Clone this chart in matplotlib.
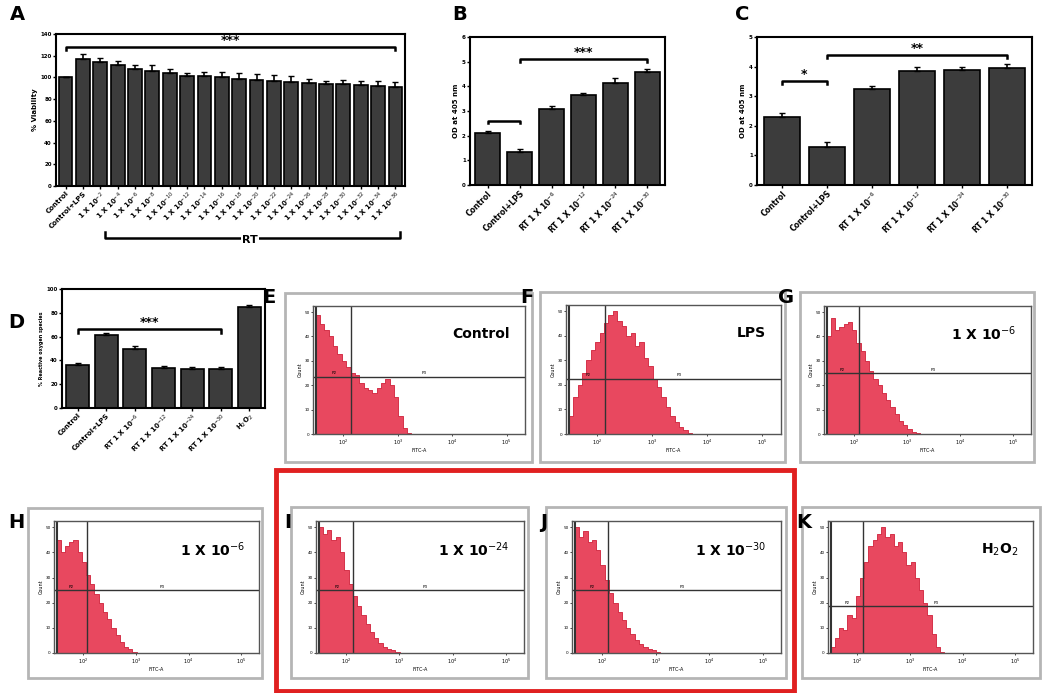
import numpy as np
import matplotlib
matplotlib.use("Agg")
import matplotlib.pyplot as plt
from matplotlib.patches import Rectangle

# ---------------- data ----------------
a_labels = ["Control", "Control+LPS"] + [f"1 X 10$^{{-{e}}}$" for e in range(2, 38, 2)]
a_values = [100, 117, 114, 111, 108, 106, 104, 101, 101, 100, 99, 98, 97, 96, 95, 94, 94, 93, 92, 91]
a_errors = [0, 5, 4, 4, 3, 5, 4, 3, 4, 5, 5, 5, 5, 5, 4, 3, 4, 4, 5, 5]

b_labels = ["Control", "Control+LPS", "RT 1 X 10$^{-6}$", "RT 1 X 10$^{-12}$", "RT 1 X 10$^{-24}$", "RT 1 X 10$^{-30}$"]
b_values = [2.1, 1.35, 3.1, 3.65, 4.15, 4.6]
b_errors = [0.1, 0.12, 0.1, 0.08, 0.2, 0.12]

c_labels = b_labels
c_values = [2.3, 1.3, 3.25, 3.85, 3.9, 3.95]
c_errors = [0.12, 0.15, 0.1, 0.15, 0.1, 0.15]

d_labels = ["Control", "Control+LPS", "RT 1 X 10$^{-6}$", "RT 1 X 10$^{-12}$", "RT 1 X 10$^{-24}$", "RT 1 X 10$^{-30}$", "H$_2$O$_2$"]
d_values = [36, 61, 50, 34, 33, 33, 85]
d_errors = [2, 2, 2, 1.5, 1.5, 1.5, 1.5]

hist_bins = np.arange(0, 2.4, 0.08)
hist_E = [0.98,0.9,0.85,0.8,0.72,0.66,0.6,0.55,0.5,0.48,0.42,0.38,0.36,0.34,0.38,0.42,0.45,0.4,0.3,0.15,0.05,0.01,0,0,0,0,0,0,0,0]
hist_F = [0.15,0.3,0.4,0.5,0.6,0.68,0.75,0.82,0.9,0.97,1.0,0.92,0.88,0.8,0.82,0.72,0.75,0.62,0.55,0.45,0.38,0.3,0.22,0.15,0.1,0.06,0.03,0.01,0,0]
hist_G = [0.8,0.95,0.85,0.88,0.9,0.92,0.85,0.75,0.68,0.6,0.52,0.45,0.4,0.34,0.28,0.22,0.16,0.11,0.07,0.04,0.02,0.01,0,0,0,0,0,0,0,0]
hist_H = [0.9,0.8,0.85,0.88,0.9,0.8,0.72,0.62,0.55,0.47,0.4,0.33,0.27,0.2,0.14,0.09,0.05,0.03,0.01,0,0,0,0,0,0,0,0,0,0,0]
hist_I = [1.0,0.95,0.98,0.9,0.92,0.8,0.66,0.55,0.45,0.37,0.3,0.23,0.17,0.12,0.08,0.05,0.03,0.02,0.01,0,0,0,0,0,0,0,0,0,0,0]
hist_J = [1.0,0.92,0.97,0.88,0.9,0.82,0.7,0.58,0.48,0.4,0.33,0.26,0.2,0.15,0.1,0.07,0.05,0.03,0.02,0.01,0,0,0,0,0,0,0,0,0,0]
hist_K = [0.05,0.12,0.2,0.18,0.3,0.28,0.45,0.6,0.72,0.85,0.9,0.95,1.0,0.92,0.95,0.85,0.88,0.8,0.7,0.72,0.6,0.5,0.4,0.3,0.15,0.05,0.01,0,0,0]
hist_titles = ["Control", "LPS", "1 X 10$^{-6}$", "1 X 10$^{-6}$", "1 X 10$^{-24}$", "1 X 10$^{-30}$", "H$_2$O$_2$"]
gate_x = [0.7, 0.7, 0.65, 0.62, 0.7, 0.67, 0.66]
gate_y = [0.47, 0.45, 0.5, 0.5, 0.5, 0.5, 0.37]

# ---------------- figure ----------------
W, H = 1050, 693
fig = plt.figure(figsize=(W / 100, H / 100), dpi=100)
BAR = "#3c3c3c"


def ax_px(x0, y0, x1, y1):
    return fig.add_axes([x0 / W, 1 - y1 / H, (x1 - x0) / W, (y1 - y0) / H])


def fig_rect(x0, y0, x1, y1, color, lw):
    fig.patches.append(Rectangle((x0 / W, 1 - y1 / H), (x1 - x0) / W, (y1 - y0) / H,
                                 transform=fig.transFigure, fill=False, edgecolor=color, lw=lw))


def letter(x, y, s):
    fig.text(x / W, 1 - y / H, s, fontsize=14, fontweight="bold", va="center", ha="left")


def bracket(ax, x0, x1, y, h, text=""):
    ax.plot([x0, x0, x1, x1], [y - h, y, y, y - h], color="black", lw=1.8, clip_on=False)
    if text:
        ax.text((x0 + x1) / 2, y, text, ha="center", va="bottom", fontsize=9, fontweight="bold")


def bar_panel(ax, labels, vals, errs, ylim, ticks, ylabel, fs=5.5):
    x = np.arange(len(vals))
    ax.bar(x, vals, width=0.8, color=BAR, edgecolor="black", lw=1.2, zorder=2)
    ax.errorbar(x, vals, yerr=[np.zeros(len(errs)), errs], fmt="none", ecolor="black",
                capsize=2.5, lw=1.2, zorder=3)
    ax.set_xlim(-0.55, len(vals) - 0.45)
    ax.set_ylim(*ylim)
    ax.set_yticks(ticks)
    ax.set_yticklabels([str(t) for t in ticks], fontsize=4, fontweight="bold")
    ax.set_xticks(x)
    ax.set_xticklabels(labels, rotation=45, ha="right", rotation_mode="anchor",
                       fontsize=fs, fontweight="bold")
    ax.set_ylabel(ylabel, fontsize=5, fontweight="bold", labelpad=2)
    ax.tick_params(length=2, width=1, pad=1)
    for s in ax.spines.values():
        s.set_linewidth(1.5)


# A
axA = ax_px(56, 34, 405, 186)
bar_panel(axA, a_labels, a_values, a_errors, (0, 140), list(range(0, 141, 20)), "% Viability", fs=5)
bracket(axA, 0, len(a_values) - 1, 128, 3, "***")
fig.add_artist(plt.Line2D([105 / W, 105 / W, 400 / W, 400 / W], [1 - 232 / H, 1 - 238 / H, 1 - 238 / H, 1 - 232 / H],
                          color="black", lw=1.8, transform=fig.transFigure))
fig.text(250 / W, 1 - 240 / H, "RT", fontsize=8, fontweight="bold", ha="center", va="center",
         bbox=dict(facecolor="white", edgecolor="none", pad=0.5))

# B
axB = ax_px(470, 37, 665, 185)
bar_panel(axB, b_labels, b_values, b_errors, (0, 6), list(range(0, 7)), "OD at 405 nm")
bracket(axB, 0, 1, 2.6, 0.1)
bracket(axB, 1, 5, 5.1, 0.12, "***")

# C
axC = ax_px(757, 37, 1032, 185)
bar_panel(axC, c_labels, c_values, c_errors, (0, 5), list(range(0, 6)), "OD at 405 nm")
bracket(axC, 0, 1, 3.5, 0.1, "*")
bracket(axC, 1, 5, 4.4, 0.1, "**")

# D
axD = ax_px(62, 289, 265, 408)
bar_panel(axD, d_labels, d_values, d_errors, (0, 100), list(range(0, 101, 20)), "% Reactive oxygen species", fs=5)
axD.yaxis.label.set_fontsize(3.5)
bracket(axD, 0, 5, 66, 3, "***")

# flow histograms
hist_data = [hist_E, hist_F, hist_G, hist_H, hist_I, hist_J, hist_K]
inner = [(313, 306, 525, 434), (566, 305, 781, 434), (824, 306, 1031, 434),
         (54, 521, 259, 653), (316, 521, 524, 653), (572, 521, 781, 653), (828, 521, 1033, 653)]
outer = [(285, 293, 532, 462), (540, 292, 785, 462), (800, 292, 1034, 462),
         (28, 508, 262, 678), (291, 507, 528, 678), (546, 507, 786, 678), (802, 507, 1040, 678)]
for i in range(7):
    fig_rect(*outer[i], "#b5b5b5", 2)
    ax = ax_px(*inner[i])
    h = np.array(hist_data[i])
    ax.fill_between(np.append(hist_bins, hist_bins[-1] + 0.08) + 0.05, np.append(h, 0), step="post",
                    color="#e8485f", lw=0.6, edgecolor="#d0203a")
    ax.set_xlim(0, 3.9)
    ax.set_ylim(0, 1.05)
    ax.axvline(0.05, color="#333333", lw=1.5)
    ax.axvline(gate_x[i], color="#333333", lw=1)
    ax.axhline(gate_y[i], color="#333333", lw=1)
    ax.text(gate_x[i] - 0.35, gate_y[i] + 0.01, "P2", fontsize=3, va="bottom")
    ax.text(2.0, gate_y[i] + 0.01, "P3", fontsize=3, va="bottom")
    ax.set_xticks([0.56, 1.56, 2.56, 3.56])
    ax.set_xticklabels(["10$^2$", "10$^3$", "10$^4$", "10$^5$"], fontsize=3.5)
    ax.set_yticks(np.linspace(0, 1, 6))
    ax.set_yticklabels([str(v) for v in range(0, 60, 10)], fontsize=3)
    ax.set_xlabel("FITC-A", fontsize=3.5, labelpad=1)
    ax.set_ylabel("Count", fontsize=3.5, labelpad=1)
    ax.tick_params(length=1.5, width=0.5, pad=1)
    for s in ax.spines.values():
        s.set_linewidth(1)
        s.set_color("#555555")
    ax.text(0.93, 0.78, hist_titles[i], transform=ax.transAxes, ha="right", va="center",
            fontsize=10, fontweight="bold")

fig_rect(276, 470, 794, 691, "#e02020", 3.5)

for s, x, y in [("A", 10, 15), ("B", 452, 15), ("C", 735, 15), ("D", 8, 322), ("E", 262, 298),
                ("F", 520, 298), ("G", 778, 298), ("H", 8, 523), ("I", 284, 523), ("J", 540, 523),
                ("K", 796, 523)]:
    letter(x, y, s)

fig.savefig("out.png", dpi=100)
